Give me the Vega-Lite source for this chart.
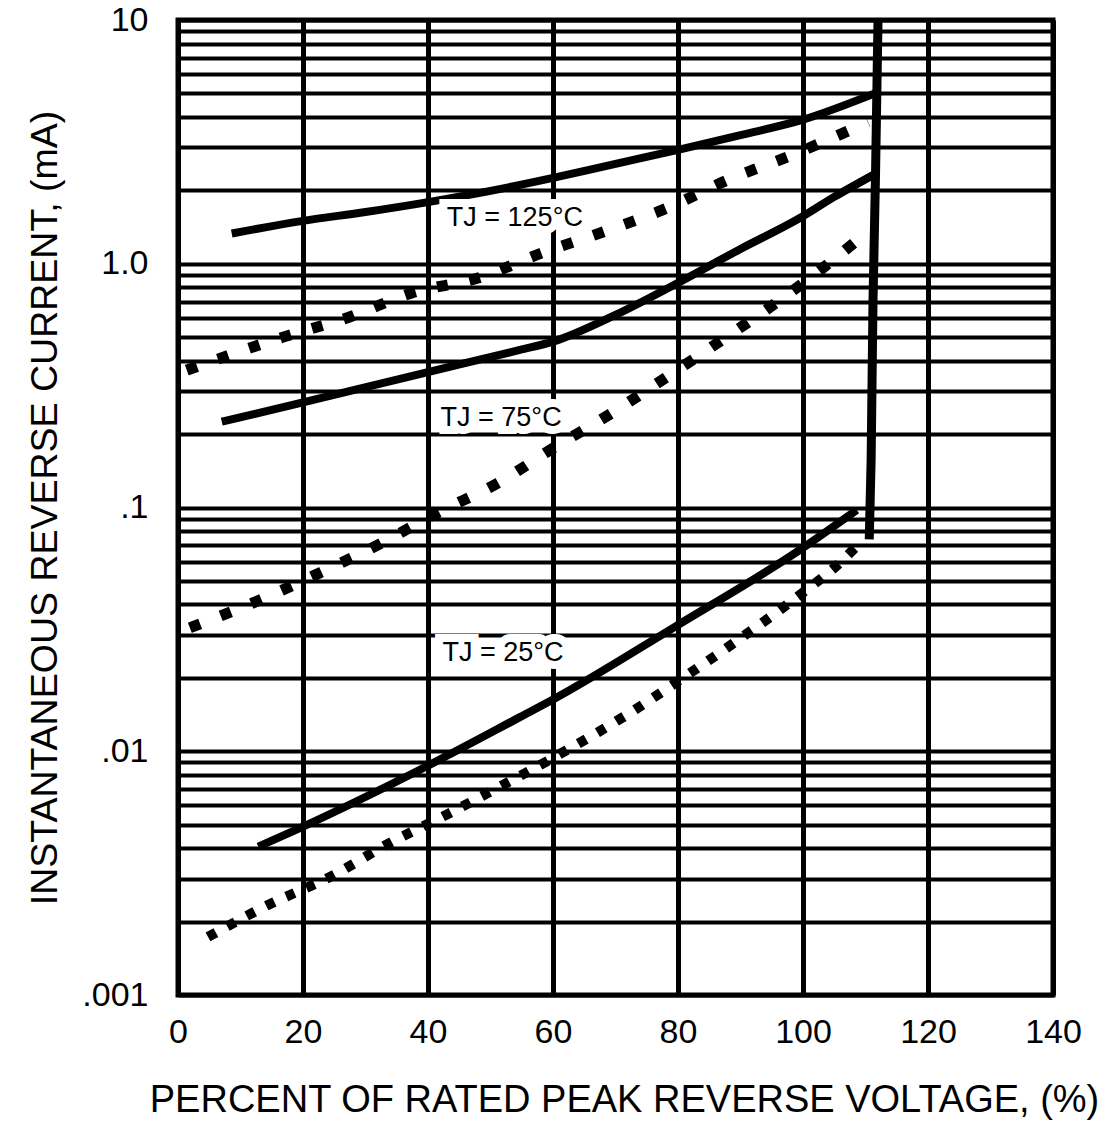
{
  "$schema": "https://vega.github.io/schema/vega-lite/v6.json",
  "width": 875,
  "height": 975,
  "autosize": {"type": "none"},
  "padding": {"left": 178, "top": 20, "right": 67, "bottom": 132},
  "background": "white",
  "config": {
    "view": {"stroke": "black", "strokeWidth": 5},
    "font": "Liberation Sans"
  },
  "datasets": {
    "solid": [
      {"series": "125", "x": 8.6, "y": 1.33},
      {"series": "125", "x": 20, "y": 1.5},
      {"series": "125", "x": 30, "y": 1.63},
      {"series": "125", "x": 40, "y": 1.79},
      {"series": "125", "x": 50, "y": 1.99},
      {"series": "125", "x": 60, "y": 2.25},
      {"series": "125", "x": 70, "y": 2.57},
      {"series": "125", "x": 80, "y": 2.93},
      {"series": "125", "x": 90, "y": 3.37},
      {"series": "125", "x": 100, "y": 3.9},
      {"series": "125", "x": 111.5, "y": 5.0},
      {"series": "75", "x": 7, "y": 0.225},
      {"series": "75", "x": 19.5, "y": 0.268},
      {"series": "75", "x": 39.5, "y": 0.357},
      {"series": "75", "x": 54.7, "y": 0.443},
      {"series": "75", "x": 60, "y": 0.479},
      {"series": "75", "x": 70, "y": 0.617},
      {"series": "75", "x": 79.5, "y": 0.822},
      {"series": "75", "x": 90, "y": 1.15},
      {"series": "75", "x": 99.5, "y": 1.54},
      {"series": "75", "x": 105, "y": 1.88},
      {"series": "75", "x": 111.2, "y": 2.31},
      {"series": "25", "x": 12.85, "y": 0.00406},
      {"series": "25", "x": 19.5, "y": 0.00484},
      {"series": "25", "x": 39.5, "y": 0.0086},
      {"series": "25", "x": 54.7, "y": 0.0138},
      {"series": "25", "x": 60, "y": 0.0163},
      {"series": "25", "x": 79.5, "y": 0.0324},
      {"series": "25", "x": 99.5, "y": 0.067},
      {"series": "25", "x": 108.6, "y": 0.0977}
    ],
    "dottedwide": [
      {"series": "125", "x": 1.4, "y": 0.366},
      {"series": "125", "x": 16.8, "y": 0.5},
      {"series": "125", "x": 27.0, "y": 0.599},
      {"series": "125", "x": 37.4, "y": 0.759},
      {"series": "125", "x": 48, "y": 0.874},
      {"series": "125", "x": 58.2, "y": 1.107},
      {"series": "125", "x": 68, "y": 1.35},
      {"series": "125", "x": 78.2, "y": 1.69},
      {"series": "125", "x": 88, "y": 2.21},
      {"series": "125", "x": 98.2, "y": 2.79},
      {"series": "125", "x": 108.3, "y": 3.61},
      {"series": "125", "x": 110.4, "y": 3.82},
      {"series": "75", "x": 1.9, "y": 0.0321},
      {"series": "75", "x": 12, "y": 0.0406},
      {"series": "75", "x": 21.9, "y": 0.0528},
      {"series": "75", "x": 32, "y": 0.0702},
      {"series": "75", "x": 41.4, "y": 0.0949},
      {"series": "75", "x": 51.2, "y": 0.126},
      {"series": "75", "x": 60, "y": 0.175},
      {"series": "75", "x": 69.4, "y": 0.244},
      {"series": "75", "x": 78.2, "y": 0.343},
      {"series": "75", "x": 87.5, "y": 0.496},
      {"series": "75", "x": 96.8, "y": 0.724},
      {"series": "75", "x": 105.4, "y": 1.066},
      {"series": "75", "x": 109.1, "y": 1.275}
    ],
    "dottednarrow": [
      {"series": "25", "x": 4.8, "y": 0.00173},
      {"series": "25", "x": 14.4, "y": 0.00234},
      {"series": "25", "x": 24.3, "y": 0.00305},
      {"series": "25", "x": 33.9, "y": 0.00421},
      {"series": "25", "x": 43.5, "y": 0.00558},
      {"series": "25", "x": 49.9, "y": 0.00681},
      {"series": "25", "x": 62.2, "y": 0.0101},
      {"series": "25", "x": 71.8, "y": 0.0141},
      {"series": "25", "x": 80.8, "y": 0.02},
      {"series": "25", "x": 89.6, "y": 0.0286},
      {"series": "25", "x": 98.4, "y": 0.0417},
      {"series": "25", "x": 106.4, "y": 0.061},
      {"series": "25", "x": 109.1, "y": 0.0715}
    ],
    "breakdown": [
      {"x": 110.6, "y": 0.074},
      {"x": 110.9, "y": 0.157},
      {"x": 111.2, "y": 0.7},
      {"x": 111.6, "y": 2.3},
      {"x": 112, "y": 10}
    ],
    "labels": [
      {"x": 53.9, "y": 1.54, "text": "TJ = 125°C"},
      {"x": 51.7, "y": 0.233, "text": "TJ = 75°C"},
      {"x": 52, "y": 0.0253, "text": "TJ = 25°C"}
    ]
  },
  "encoding": {
    "x": {
      "field": "x", "type": "quantitative",
      "scale": {"domain": [0, 140], "nice": false, "zero": false},
      "axis": {
        "values": [0, 20, 40, 60, 80, 100, 120, 140],
        "title": "PERCENT OF RATED PEAK REVERSE VOLTAGE, (%)",
        "titleFont": "Liberation Sans", "titleFontSize": 38, "titleFontWeight": "normal",
        "titleColor": "black",
        "titleX": 446, "titleY": 105, "titleAlign": "center", "titleBaseline": "middle",
        "labelFont": "Liberation Sans", "labelFontSize": 34, "labelColor": "black",
        "labelPadding": 20, "labelFlush": false, "labelOverlap": false,
        "ticks": false, "domain": false,
        "grid": true, "gridColor": "black", "gridWidth": 5, "gridOpacity": 1
      }
    },
    "y": {
      "field": "y", "type": "quantitative",
      "scale": {"type": "log", "domain": [0.001, 10], "nice": false},
      "axis": {
        "values": [0.001, 0.002, 0.003, 0.004, 0.005, 0.006, 0.007, 0.008, 0.009,
                   0.01, 0.02, 0.03, 0.04, 0.05, 0.06, 0.07, 0.08, 0.09,
                   0.1, 0.2, 0.3, 0.4, 0.5, 0.6, 0.7, 0.8, 0.9,
                   1, 2, 3, 4, 5, 6, 7, 8, 9, 10],
        "labelExpr": "datum.value == 10 ? '10' : datum.value == 1 ? '1.0' : datum.value == 0.1 ? '.1' : datum.value == 0.01 ? '.01' : datum.value == 0.001 ? '.001' : ''",
        "title": "INSTANTANEOUS REVERSE CURRENT, (mA)",
        "titleFont": "Liberation Sans", "titleFontSize": 37.5, "titleFontWeight": "normal",
        "titleColor": "black",
        "titleX": -133, "titleY": 487.5, "titleAngle": -90, "titleAlign": "center", "titleBaseline": "middle",
        "labelFont": "Liberation Sans", "labelFontSize": 34, "labelColor": "black",
        "labelPadding": 30, "labelOverlap": false, "labelBound": false, "labelFlush": false,
        "ticks": false, "domain": false,
        "grid": true, "gridColor": "black", "gridWidth": 4, "gridOpacity": 1
      }
    }
  },
  "layer": [
    {
      "data": {"name": "solid"},
      "mark": {"type": "line", "color": "black", "strokeWidth": 8, "interpolate": "monotone"},
      "encoding": {"detail": {"field": "series"}}
    },
    {
      "data": {"name": "dottedwide"},
      "mark": {"type": "line", "color": "black", "strokeWidth": 11, "strokeDash": [11, 22], "strokeCap": "butt", "interpolate": "monotone"},
      "encoding": {"detail": {"field": "series"}}
    },
    {
      "data": {"name": "dottednarrow"},
      "mark": {"type": "line", "color": "black", "strokeWidth": 10, "strokeDash": [9, 13], "strokeCap": "butt", "interpolate": "monotone"},
      "encoding": {"detail": {"field": "series"}}
    },
    {
      "data": {"name": "breakdown"},
      "mark": {"type": "line", "color": "black", "strokeWidth": 9},
      "encoding": {"order": {"field": "y", "type": "quantitative"}}
    },
    {
      "data": {"name": "labels"},
      "mark": {"type": "text", "font": "Liberation Sans", "fontSize": 27, "stroke": "white", "strokeWidth": 16, "fill": "white", "align": "center", "baseline": "middle"},
      "encoding": {"text": {"field": "text"}}
    },
    {
      "data": {"name": "labels"},
      "mark": {"type": "text", "font": "Liberation Sans", "fontSize": 27, "fill": "black", "align": "center", "baseline": "middle"},
      "encoding": {"text": {"field": "text"}}
    }
  ]
}
